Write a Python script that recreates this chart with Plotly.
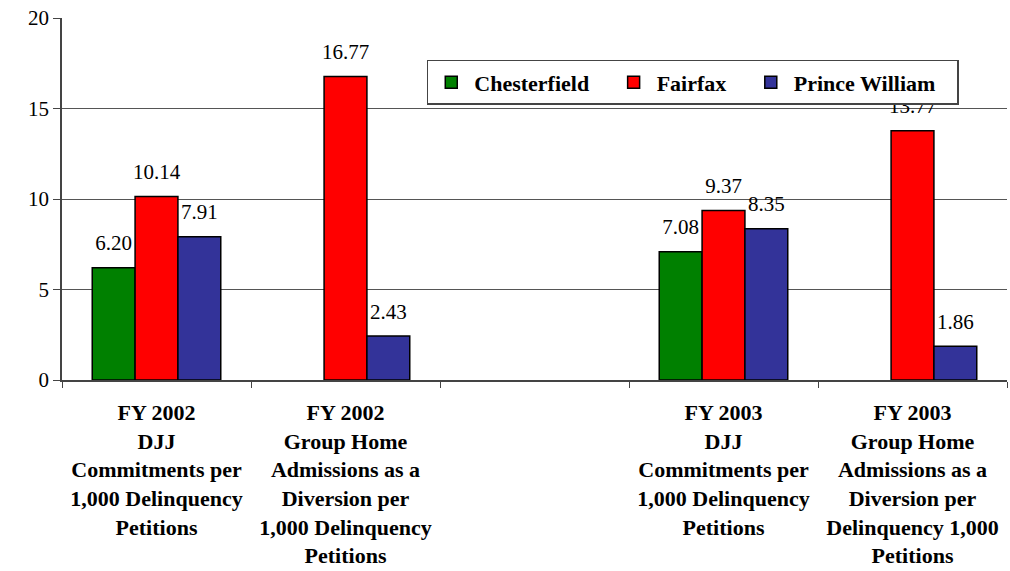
import plotly.graph_objects as go

# Categories (the blank slot separates the two fiscal years)
categories = [
    "FY 2002<br>DJJ<br>Commitments per<br>1,000 Delinquency<br>Petitions",
    "FY 2002<br>Group Home<br>Admissions as a<br>Diversion per<br>1,000 Delinquency<br>Petitions",
    " ",
    "FY 2003<br>DJJ<br>Commitments per<br>1,000 Delinquency<br>Petitions",
    "FY 2003<br>Group Home<br>Admissions as a<br>Diversion per<br>Delinquency 1,000<br>Petitions",
]

chesterfield = [6.20, None, None, 7.08, None]
fairfax = [10.14, 16.77, None, 9.37, 13.77]
prince_william = [7.91, 2.43, None, 8.35, 1.86]

y_ticks = [0, 5, 10, 15, 20]

series = [
    ("Chesterfield", chesterfield, "#008000"),
    ("Fairfax", fairfax, "#FF0000"),
    ("Prince William", prince_william, "#333399"),
]

SERIF = "Liberation Serif"
GAP = 0.32
LEGEND_PAD = "\u00a0" * 3  # extra room after each legend entry

fig = go.Figure()
for name, vals, color in series:
    fig.add_trace(go.Bar(
        name=name + LEGEND_PAD,
        x=categories,
        y=vals,
        offsetgroup=name,
        marker=dict(color=color, line=dict(color="black", width=1.5)),
    ))

# value labels, grouped like the bars and lifted a little above each bar top
for name, vals, color in series:
    fig.add_trace(go.Scatter(
        x=categories,
        y=vals,
        offsetgroup=name,
        mode="markers+text",
        marker=dict(size=18, opacity=0),
        text=[None if v is None else f"{v:.2f}" for v in vals],
        textposition="top center",
        textfont=dict(family=SERIF, size=21, color="black"),
        cliponaxis=False,
        showlegend=False,
        hoverinfo="skip",
    ))

fig.update_layout(
    width=1010,
    height=571,
    margin=dict(l=62, r=3, t=18, b=191),
    paper_bgcolor="white",
    plot_bgcolor="white",
    barmode="group",
    bargap=GAP,
    bargroupgap=0,
    scattermode="group",
    scattergap=GAP,
    font=dict(family=SERIF, color="black"),
    showlegend=True,
    legend=dict(
        orientation="h",
        x=0.386,
        y=0.884,
        xanchor="left",
        yanchor="top",
        bgcolor="white",
        bordercolor="#444",
        borderwidth=1.5,
        itemwidth=36,
        font=dict(family=SERIF, size=22, color="black", weight="bold"),
    ),
    xaxis=dict(
        type="category",
        tickson="boundaries",
        ticks="outside",
        ticklen=6,
        tickcolor="#444",
        showline=True,
        linecolor="#444",
        linewidth=1.5,
        showgrid=False,
        ticklabelstandoff=12,
        tickfont=dict(family=SERIF, size=22, color="black", weight="bold"),
    ),
    yaxis=dict(
        range=[0, 20],
        tickvals=y_ticks,
        ticks="outside",
        ticklen=7,
        tickcolor="#444",
        showline=True,
        linecolor="#444",
        linewidth=1.5,
        showgrid=True,
        gridcolor="#555",
        gridwidth=1,
        zeroline=False,
        tickfont=dict(family=SERIF, size=21, color="black"),
    ),
)

fig.write_html("out.html")
